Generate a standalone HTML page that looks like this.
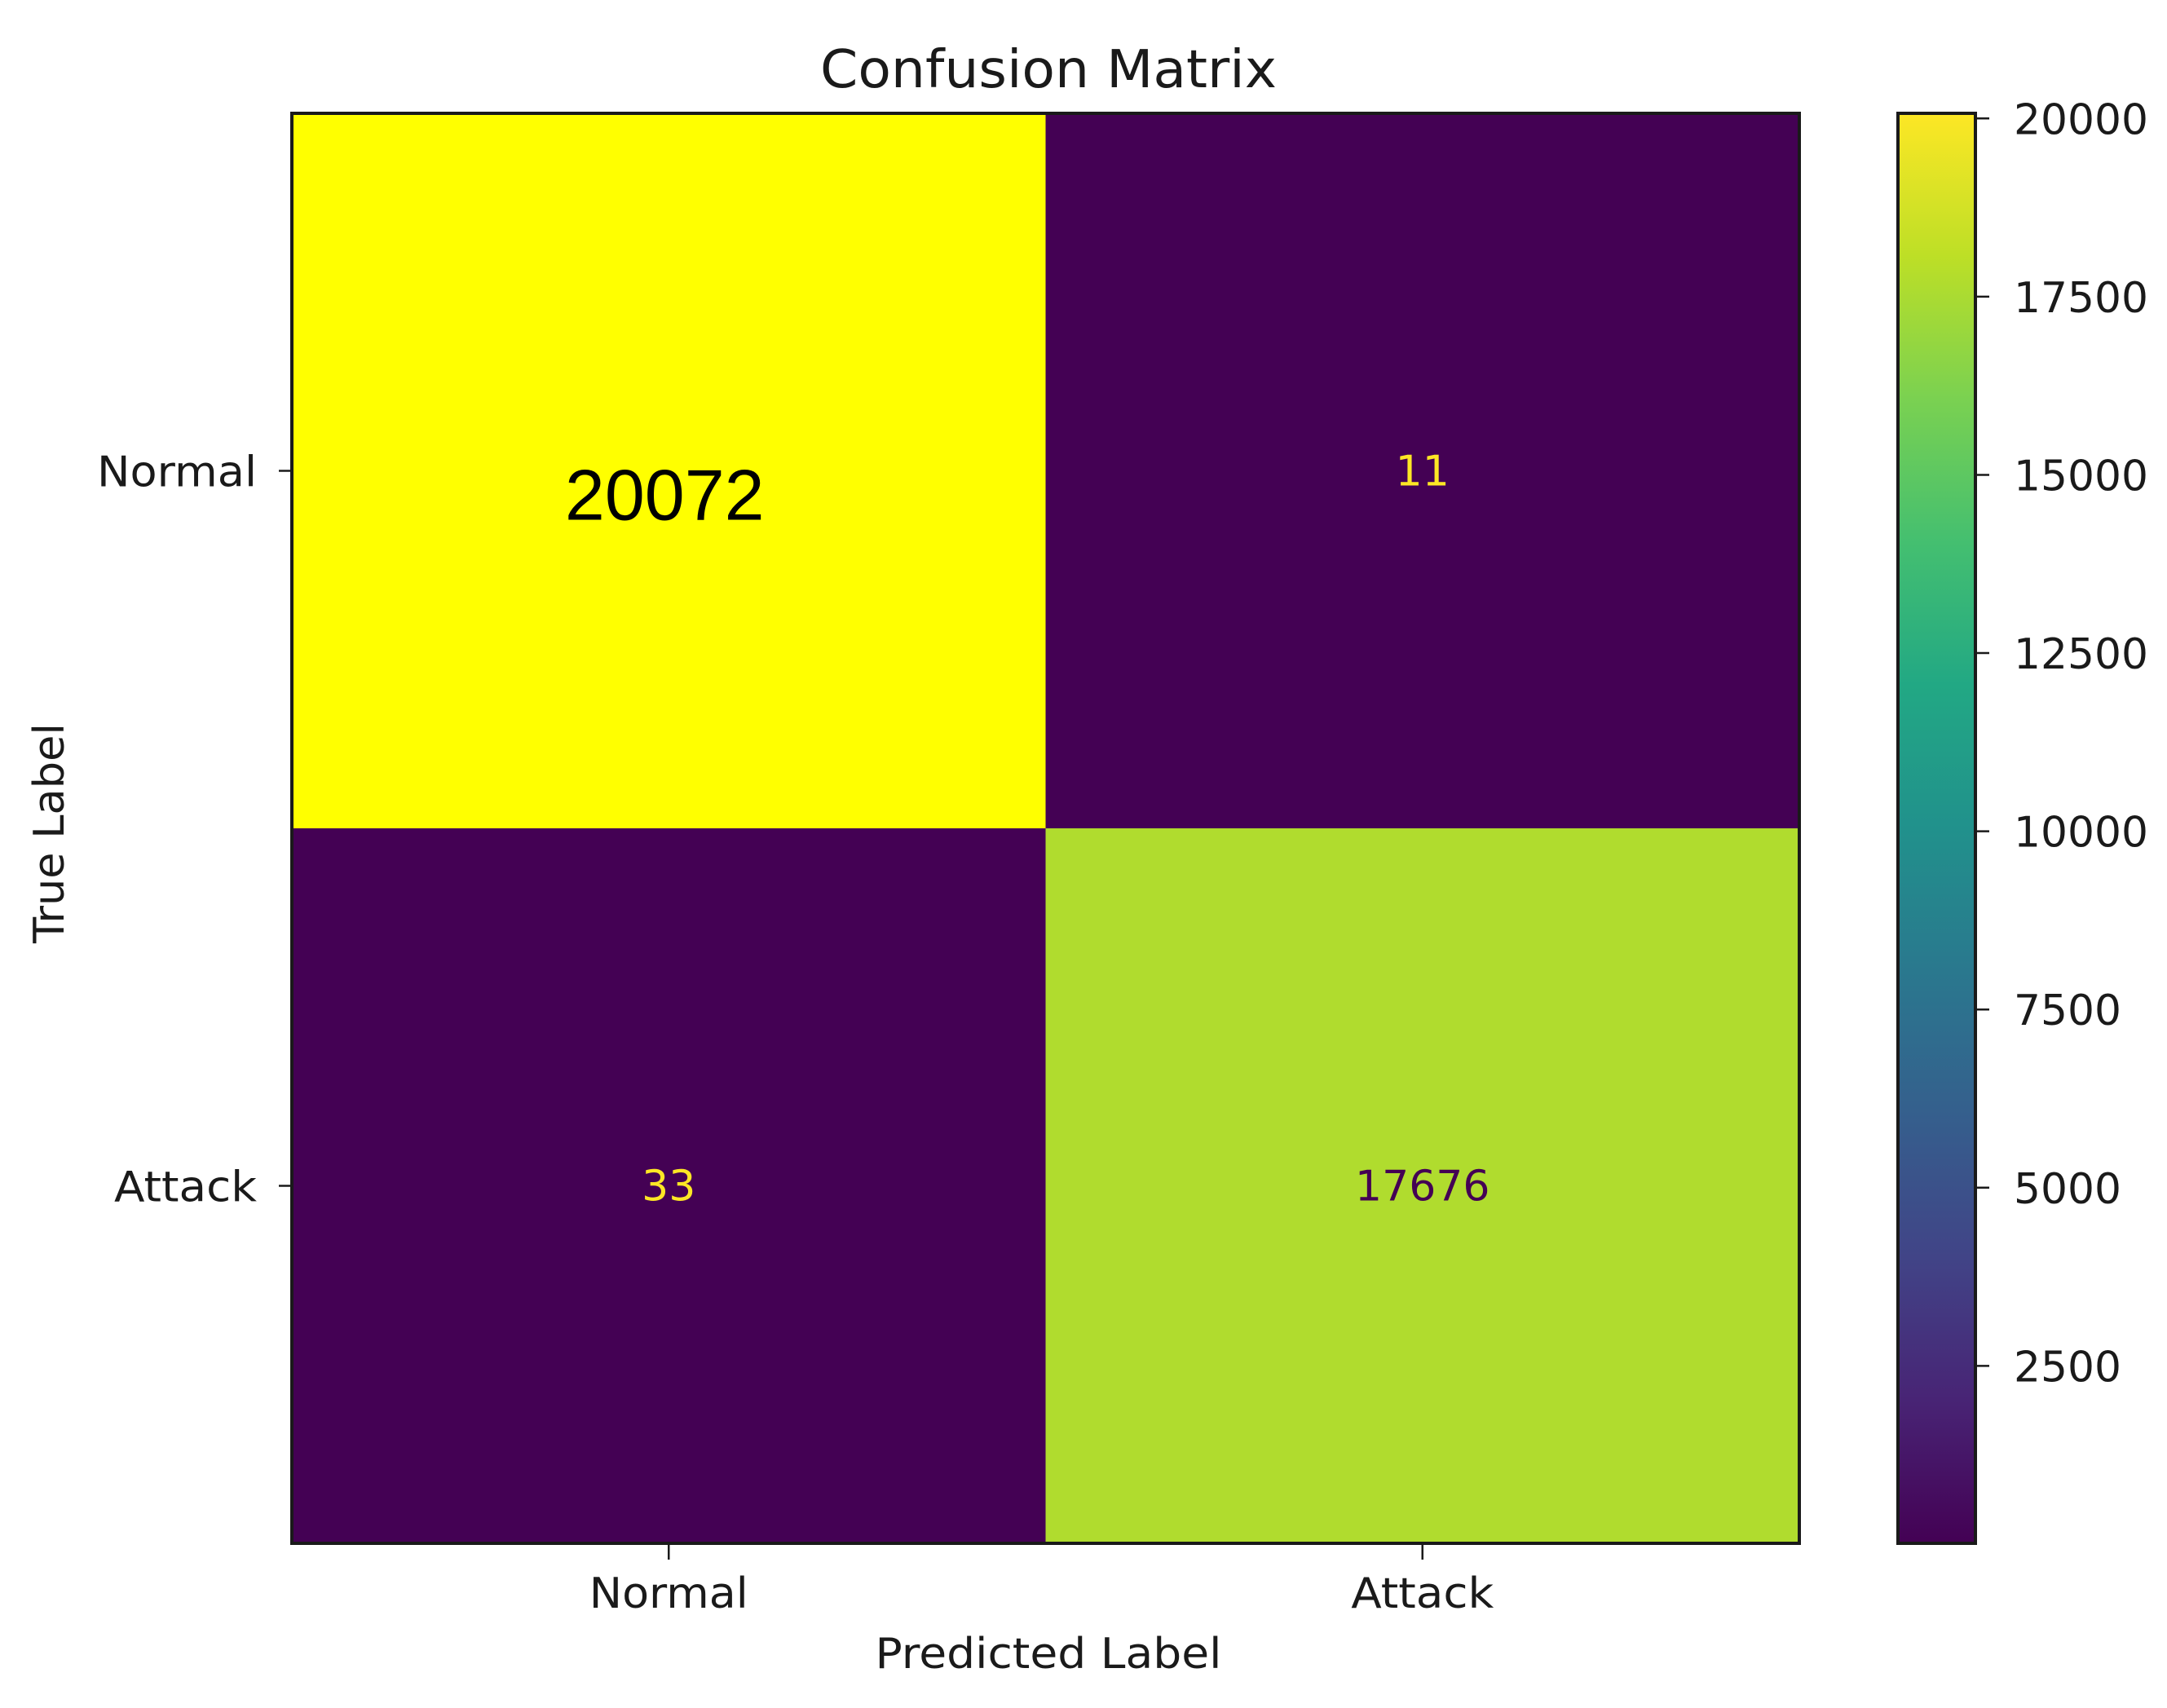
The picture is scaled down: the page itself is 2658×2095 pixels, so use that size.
<!DOCTYPE html>
<html>
<head>
<meta charset="utf-8">
<style>
  html, body { margin: 0; padding: 0; background: #ffffff; }
  svg { display: block; }
  text { font-family: "DejaVu Sans", "Liberation Sans", sans-serif; fill: #1a1a1a; }
</style>
</head>
<body>
<svg id="chart" width="2658" height="2095" viewBox="0 0 2658 2095" xmlns="http://www.w3.org/2000/svg">
  <defs>
    <linearGradient id="viridis" x1="0" y1="1" x2="0" y2="0">
      <stop offset="0" stop-color="#440154"/>
      <stop offset="0.1" stop-color="#482475"/>
      <stop offset="0.2" stop-color="#414487"/>
      <stop offset="0.3" stop-color="#355f8d"/>
      <stop offset="0.4" stop-color="#2a788e"/>
      <stop offset="0.5" stop-color="#21918c"/>
      <stop offset="0.6" stop-color="#22a884"/>
      <stop offset="0.7" stop-color="#44bf70"/>
      <stop offset="0.8" stop-color="#7ad151"/>
      <stop offset="0.9" stop-color="#bddf26"/>
      <stop offset="1" stop-color="#fde725"/>
    </linearGradient>
  </defs>
  <text x="1286" y="107" font-size="64" text-anchor="middle" textLength="560" lengthAdjust="spacingAndGlyphs">Confusion Matrix</text>
  <g id="cells"></g>
  <g id="axes"></g>
  <g id="colorbar"></g>
  <text x="1286" y="2046" font-size="52" text-anchor="middle" textLength="425" lengthAdjust="spacingAndGlyphs">Predicted Label</text>
  <text x="0" y="0" font-size="52" text-anchor="middle" textLength="270" lengthAdjust="spacingAndGlyphs" transform="translate(78,1022) rotate(-90)">True Label</text>
</svg>
<script>
const labels = ["Normal", "Attack"];
const matrixValues = [[20072, 11], [33, 17676]];
const colorbarTicks = [2500, 5000, 7500, 10000, 12500, 15000, 17500, 20000];

const NS = "http://www.w3.org/2000/svg";
const plot = { left: 358, right: 2207, top: 139, bottom: 1893 };
const cb = { left: 2328, right: 2423, top: 139, bottom: 1893 };
const allVals = matrixValues.flat();
const vmin = Math.min(...allVals), vmax = Math.max(...allVals);

function xBand(i) { const w = (plot.right - plot.left) / labels.length; return plot.left + i * w; }
function yBand(i) { const h = (plot.bottom - plot.top) / labels.length; return plot.top + i * h; }
function cbY(v) { return cb.bottom - (v - vmin) / (vmax - vmin) * (cb.bottom - cb.top); }

const viridis = ["#440154","#482475","#414487","#355f8d","#2a788e","#21918c","#22a884","#44bf70","#7ad151","#bddf26","#fde725"];
function hex(c){return [1,3,5].map(k=>parseInt(c.substr(k,2),16));}
function colorFor(v) {
  let t = (v - vmin) / (vmax - vmin);
  if (t >= 0.999) return "#ffff00";
  const p = t * (viridis.length - 1); const i = Math.min(Math.floor(p), viridis.length - 2); const f = p - i;
  const a = hex(viridis[i]), b = hex(viridis[i + 1]);
  return "rgb(" + a.map((x, k) => Math.round(x + (b[k] - x) * f)).join(",") + ")";
}
function mk(tag, attrs, parent) {
  const el = document.createElementNS(NS, tag);
  for (const k in attrs) el.setAttribute(k, attrs[k]);
  parent.appendChild(el);
  return el;
}

const cellsG = document.getElementById("cells");
const cw = (plot.right - plot.left) / labels.length, ch = (plot.bottom - plot.top) / labels.length;
matrixValues.forEach((row, r) => {
  row.forEach((v, c) => {
    const rect = mk("rect", { x: xBand(c), y: yBand(r), width: cw + 0.5, height: ch + 0.5, fill: colorFor(v) }, cellsG);
    
    
    const t = (v - vmin) / (vmax - vmin);
    const big = (t >= 0.999);
    const txt = mk("text", {
      x: xBand(c) + cw / 2 + (big ? -5 : 0),
      y: yBand(r) + ch / 2 + (big ? 60 : 18),
      "font-size": big ? 88 : 52,
      "text-anchor": "middle",
      fill: big ? "#000000" : (t > 0.5 ? "#440154" : "#fde725"),
      style: big ? 'font-family:"Liberation Sans",sans-serif;fill:#000' : 'fill:' + (t > 0.5 ? "#440154" : "#fde725")
    }, cellsG);
    txt.textContent = String(v);
    
    
  });
});

const axesG = document.getElementById("axes");
const frame = mk("rect", { x: plot.left, y: plot.top, width: plot.right - plot.left, height: plot.bottom - plot.top, fill: "none", stroke: "#1a1a1a", "stroke-width": 4 }, axesG);


labels.forEach((lab, i) => {
  const cx = xBand(i) + cw / 2, cy = yBand(i) + ch / 2;
  const xt = mk("line", { x1: cx, y1: plot.bottom, x2: cx, y2: plot.bottom + 20, stroke: "#1a1a1a", "stroke-width": 2.5 }, axesG);
  
  
  const xl = mk("text", { x: cx, y: 1972, "font-size": 52, "text-anchor": "middle", textLength: lab === "Normal" ? 195 : 175, lengthAdjust: "spacingAndGlyphs" }, axesG);
  xl.textContent = lab;
  
  
  const yt = mk("line", { x1: plot.left - 16, y1: cy, x2: plot.left, y2: cy, stroke: "#1a1a1a", "stroke-width": 2.5 }, axesG);
  
  
  const yl = mk("text", { x: 315, y: cy + 19, "font-size": 52, "text-anchor": "end", textLength: lab === "Normal" ? 196 : 175, lengthAdjust: "spacingAndGlyphs" }, axesG);
  yl.textContent = lab;
  
  
});

const cbG = document.getElementById("colorbar");
const bar = mk("rect", { x: cb.left, y: cb.top, width: cb.right - cb.left, height: cb.bottom - cb.top, fill: "url(#viridis)", stroke: "#1a1a1a", "stroke-width": 4 }, cbG);


colorbarTicks.forEach(v => {
  const y = cbY(v);
  const tk = mk("line", { x1: cb.right, y1: y, x2: cb.right + 17, y2: y, stroke: "#1a1a1a", "stroke-width": 2.5 }, cbG);
  
  
  const tl = mk("text", { x: 2470, y: y + 19, "font-size": 52, textLength: String(v).length * 33, lengthAdjust: "spacingAndGlyphs" }, cbG);
  tl.textContent = String(v);
  
  
});
</script>
</body>
</html>
